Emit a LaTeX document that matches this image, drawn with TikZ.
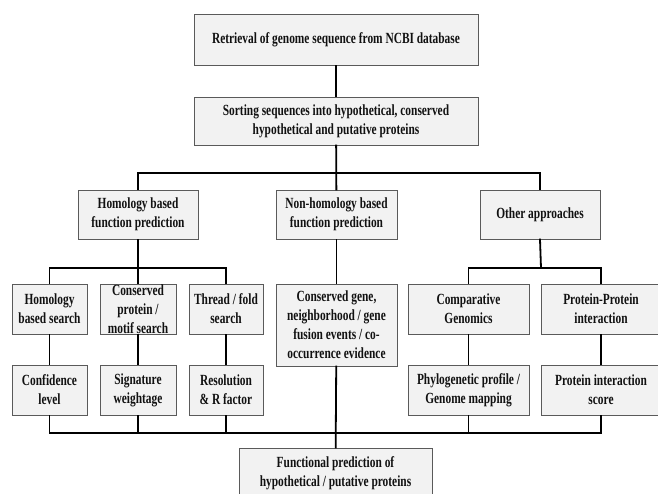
\documentclass[tikz,border=0pt]{standalone}
\usepackage{fontspec}
\setmainfont[FakeStretch=0.735]{Liberation Serif}
\definecolor{boxfill}{HTML}{F2F2F2}
\definecolor{boxline}{HTML}{5A5A5A}
\definecolor{txt}{HTML}{111111}
\begin{document}
\begin{tikzpicture}[x=1pt,y=-1pt,
  box/.style={draw=boxline, fill=boxfill, line width=0.9pt, rectangle, inner sep=0pt,
    align=center, font=\fontsize{15.5}{19}\selectfont\bfseries, text=txt, minimum height=50pt},
  conn/.style={line width=1.8pt, draw=black, line cap=rect}]
\useasboundingbox (0,0) rectangle (658,493);
\clip (0,0) rectangle (658,493);
% boxes
\node[box, minimum width=284pt, minimum height=51pt] (b1) at (336,39.5) {Retrieval of genome sequence from NCBI database};
\node[box, minimum width=284pt, minimum height=48pt] (b2) at (336,121) {Sorting sequences into hypothetical, conserved\\hypothetical and putative proteins};
\node[box, minimum width=120pt, minimum height=49pt] (h) at (138,214.5) {Homology based\\function prediction};
\node[box, minimum width=121pt, minimum height=49pt] (n) at (336.5,214.5) {Non-homology based\\function prediction};
\node[box, minimum width=120pt, minimum height=49pt] (o) at (540,214.5) {Other approaches};
\node[box, minimum width=75pt] (hs) at (49.5,309) {Homology\\based search};
\node[box, minimum width=76pt] (cp) at (138,309) {Conserved\\protein /\\motif search};
\node[box, minimum width=74pt] (tf) at (226,309) {Thread / fold\\search};
\node[box, minimum width=121pt, minimum height=82pt] (cg) at (336.5,325) {Conserved gene,\\neighborhood / gene\\fusion events / co-\\occurrence evidence};
\node[box, minimum width=121pt] (comp) at (468.5,309) {Comparative\\Genomics};
\node[box, minimum width=120pt] (ppi) at (601,309) {Protein-Protein\\interaction};
\node[box, minimum width=75pt] (cl) at (49.5,390) {Confidence\\level};
\node[box, minimum width=76pt] (sw) at (138,390) {Signature\\weightage};
\node[box, minimum width=74pt] (rr) at (226,390) {Resolution\\\& R factor};
\node[box, minimum width=121pt] (pp) at (468.5,390) {Phylogenetic profile /\\Genome mapping};
\node[box, minimum width=120pt] (pis) at (601,390) {Protein interaction\\score};
\node[box, minimum width=193pt] (fin) at (335.5,473) {Functional prediction of\\hypothetical / putative proteins};
% junctions
\coordinate (j1) at (336,173);
\coordinate (j2) at (138,268);
\coordinate (j3) at (541,268);
\coordinate (j4) at (336,433);
% connectors
\draw[conn] (b1) -- (b2);
\draw[conn] (b2) -- (n);
\draw[conn] (h.north) |- (j1) -| (o.north);
\draw[conn] (h) -- (cp);
\draw[conn] (hs.north) |- (j2) -| (tf.north);
\draw[conn] (n) -- (cg);
\draw[conn] (o.south) -- (j3);
\draw[conn] (comp.north) |- (j3) -| (ppi.north);
\draw[conn] (hs) -- (cl);
\draw[conn] (cp) -- (sw);
\draw[conn] (tf) -- (rr);
\draw[conn] (comp) -- (pp);
\draw[conn] (ppi) -- (pis);
\draw[conn] (cl.south) |- (j4) -| (pis.south);
\draw[conn] (sw.south) -- (sw.south |- j4);
\draw[conn] (rr.south) -- (rr.south |- j4);
\draw[conn] (pp.south) -- (pp.south |- j4);
\draw[conn] (cg) -- (fin);
\end{tikzpicture}
\end{document}
